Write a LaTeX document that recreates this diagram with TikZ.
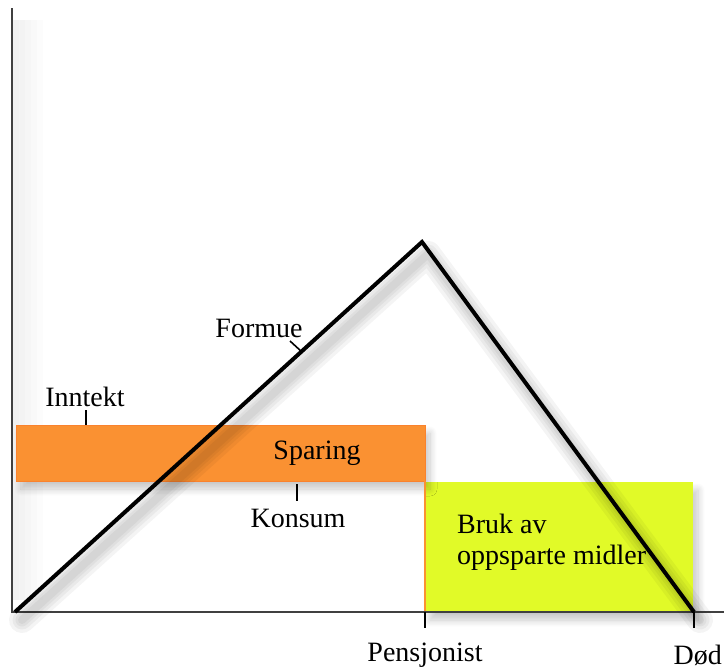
\documentclass[tikz,border=0pt]{standalone}
\usepackage{fontspec}
\setmainfont{Liberation Serif}
\usetikzlibrary{shadows.blur}
\definecolor{sparorange}{RGB}{250,145,50}
\definecolor{brukyellow}{RGB}{225,250,40}
\tikzset{
  lbl/.style={font=\fontsize{28}{31}\selectfont, inner sep=0pt},
  axisline/.style={draw=black!75, line width=1.2pt},
  formue/.style={draw=black, line width=4pt, line join=miter},
  formueshadow/.style={draw=black, line join=round, line cap=round, opacity=0.045},
  tickline/.style={draw=black, line width=1.6pt},
  shade/.style={blur shadow={shadow xshift=5pt, shadow yshift=-8pt, shadow blur steps=10, shadow blur radius=7pt, shadow opacity=22}}
}
\begin{document}
\begin{tikzpicture}[x=1pt,y=-1pt]
\useasboundingbox (0,0) rectangle (724,670);
% coordinates
\coordinate (O) at (12,612);
\coordinate (ytop) at (12,8);
\coordinate (xend) at (724,612);
\coordinate (start) at (15,612);
\coordinate (peak) at (422,242);
\coordinate (end) at (694,612);
\coordinate (sstart) at (22,620);
\coordinate (speak) at (428,254);
\coordinate (send) at (700,620);
\coordinate (P) at (425,612);
\coordinate (Pt) at (425,628);
\coordinate (D) at (694,612);
\coordinate (Dt) at (694,628);
% y-axis faint shadow
\foreach \w in {6,12,18,24,30}{
  \fill[black, opacity=0.01] (13,20) rectangle ++(\w,580);
}
% boxes
\path[fill=brukyellow, shade] (425,482) rectangle (693,612);
\path[fill=sparorange, draw=sparorange!90!red, line width=0.6pt, shade] (16,425) rectangle (425,481);
\draw[draw=sparorange, line width=1.6pt] (425,481) -- (P);
% axes
\draw[axisline] (ytop) -- (O) -- (xend);
\draw[tickline] (P) -- (Pt);
\draw[tickline] (D) -- (Dt);
% formue line shadow
\foreach \w in {26,19,13,8}{
  \draw[formueshadow, line width=\w pt] (sstart) -- (speak) -- (send);
}
% formue line
\draw[formue] (start) -- (peak) -- (end);
% labels
\node[lbl] (inntekt) at (85,397) {Inntekt};
\coordinate (it1) at (86,410);
\coordinate (it2) at (86,425);
\draw[tickline] (it1) -- (it2);
\node[lbl] (sparing) at (317,453) {Sparing};
\node[lbl] (konsum) at (298,518) {Konsum};
\coordinate (kt1) at (297,484);
\coordinate (kt2) at (297,501);
\draw[tickline] (kt1) -- (kt2);
\node[lbl] (formuelbl) at (259,328) {Formue};
\coordinate (ft1) at (302,352);
\coordinate (ft2) at (290,341);
\draw[tickline] (ft1) -- (ft2);
\node[lbl, anchor=north west, align=left] (bruk) at (457,514) {Bruk av\\oppsparte midler};
\node[lbl] (pens) at (425,655) {Pensjonist};
\node[lbl, anchor=east] (dod) at (722,655) {Død};
\end{tikzpicture}
\end{document}
